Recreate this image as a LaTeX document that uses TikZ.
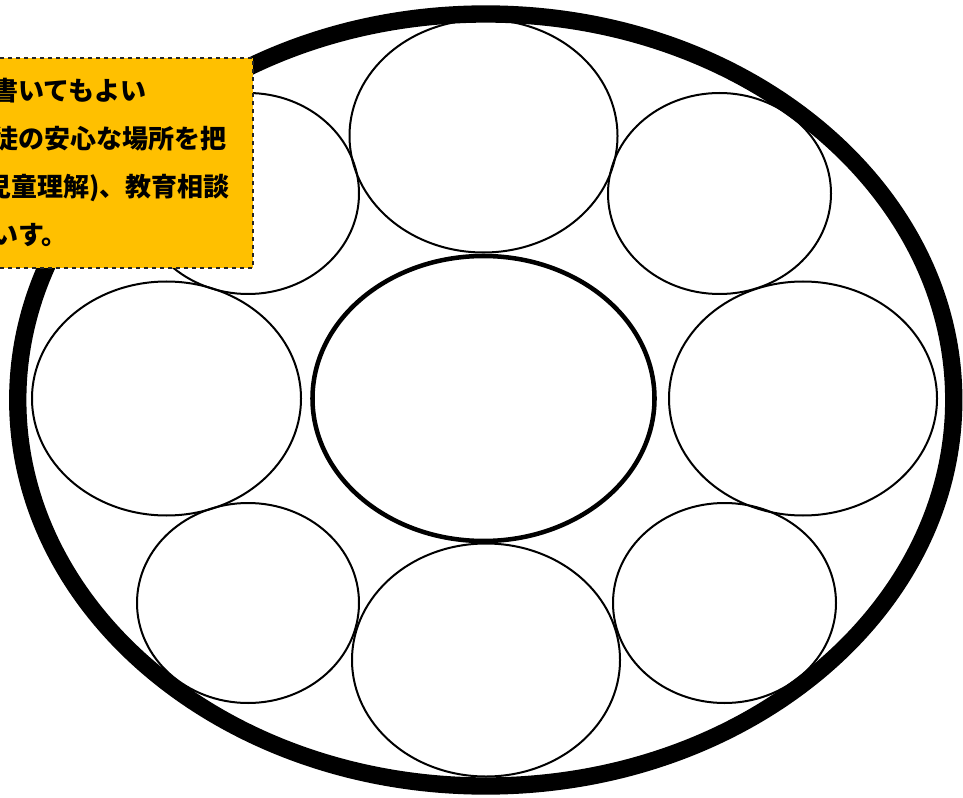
\documentclass[tikz,border=0pt]{standalone}
\usepackage{fontspec}
\newfontfamily\jpfont{Noto Sans CJK JP}
\definecolor{amber}{HTML}{FFC000}
\definecolor{edge}{HTML}{262626}
\usetikzlibrary{shapes.geometric}

\begin{document}
\begin{tikzpicture}[x=0.75pt,y=-0.75pt,
  rim/.style={ellipse,draw,line width=13pt,inner sep=0pt,minimum width=702pt,minimum height=579pt},
  hub/.style={ellipse,draw,line width=3.4pt,inner sep=0pt,minimum width=256.5pt,minimum height=213.75pt},
  ring/.style={ellipse,draw,line width=1.5pt,inner sep=0pt},
  note/.style={draw=edge,fill=amber,dashed,line width=1pt,inner sep=0pt,minimum width=219.75pt,minimum height=157.5pt},
  jp/.style={font=\fontsize{19.5pt}{20pt}\selectfont\jpfont\bfseries,inner sep=0pt}]
\useasboundingbox (0,0) rectangle (963,798);
\node[rim] (rim) at (485.75,400) {};
\node[hub] (hub) at (483.5,398.5) {};
\foreach \n/\x/\y/\w/\h in {top/483.5/136/201/174.75,bottom/486/660/201/174.75,
  left/166.5/398.5/201.75/175.5,right/803/398.5/201/175.5,
  topleft/248/193.5/166.5/150.75,topright/719.5/193.5/167.25/150.75,
  botleft/248/603/166.5/150,botright/724.5/603/167.25/150} {
\node[ring,minimum width=\w pt,minimum height=\h pt] (\n) at (\x,\y) {};}
\node[note] (note) at (106.5,163) {};
\node[jp,anchor=base west] (l1) at (-8,101) {書いてもよい};
\node[jp,anchor=base west] (l2) at (-8,149) {徒の安心な場所を把};
\node[jp,anchor=base east] (l3) at (230,197) {児童理解)、教育相談};
\node[jp,anchor=base west] (l4) at (-8,245) {いす。};
\end{tikzpicture}
\end{document}
